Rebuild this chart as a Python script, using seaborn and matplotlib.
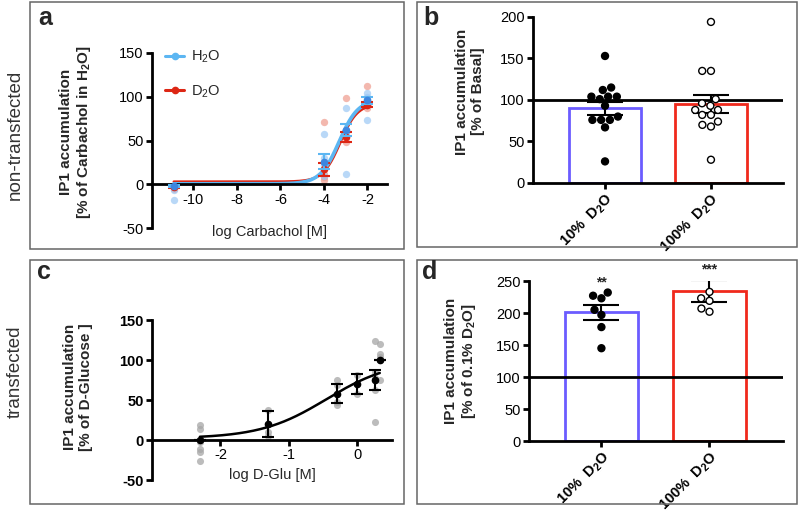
import numpy as np
import pandas as pd
import matplotlib
matplotlib.use('Agg')
import matplotlib.pyplot as plt
from matplotlib.lines import Line2D
from matplotlib.patches import Rectangle
import seaborn as sns

# ---- panel a: carbachol dose response (non-transfected) ----
carb_h2o_x = [-10.9, -10.9, -10.9, -4, -4, -4, -4, -3, -3, -3, -2, -2, -2, -2, -2]
carb_h2o_y = [-3, -6, -18, 58, 30, 22, 10, 87, 60, 12, 104, 100, 97, 92, 73]
carb_d2o_x = [-10.9, -10.9, -4, -4, -4, -4, -3, -3, -3, -2, -2, -2, -2]
carb_d2o_y = [-2, -5, 71, 12, 8, 5, 99, 60, 48, 112, 91, 87, 90]
carb_levels = [-10.9, -4, -3, -2]
h2o_mean = [-2, 26, 62, 96]
h2o_sem = [1, 9, 7, 4]
d2o_mean = [-3, 17, 54, 91]
d2o_sem = [1, 7, 6, 3]
# fitted curve params: bottom, top, logEC50, hill
h2o_fit = [0.5, 97, -3.3, 1.0]
d2o_fit = [3, 92, -3.25, 1.1]

# ---- panel b: basal ----
groups = ['10%  D$_2$O', '100%  D$_2$O']
basal_10 = [153, 115, 112, 104, 104, 104, 101, 93, 80, 76, 76, 76, 67, 26]
basal_100 = [194, 135, 135, 101, 96, 93, 88, 88, 82, 82, 74, 70, 68, 28]
basal_mean = [90, 95]
basal_sem = [8, 10.5]

# ---- panel c: D-glucose dose response (transfected) ----
glu_levels = [-2.3, -1.3, -0.3, 0.0, 0.26, 0.33]
glu_mean = [0, 20, 58, 70, 75, 100]
glu_sem = [0, 16, 12, 13, 12, 0]
glu_x = [-2.3] * 6 + [-1.3] * 3 + [-0.3] * 4 + [0.0] * 3 + [0.26] * 5 + [0.33] * 5
glu_y = [19, 14, -3, -11, -15, -26, 38, 10, 5, 75, 69, 48, 44, 81, 70, 58,
         124, 85, 77, 62, 22, 120, 107, 104, 100, 75]
glu_fit = [2, 100, -0.45, 0.9]

# ---- panel d: % of 0.1% D2O ----
fold_10 = [232, 227, 223, 205, 197, 178, 145]
fold_100 = [233, 223, 219, 207, 202]
fold_mean = [201, 234]
fold_sem = [12, 17.5]
stars = ['**', '***']

blue_line = '#5cb6f2'
blue_mean = '#3d86e0'
blue_pts = '#9cc8f5'
red_line = '#dd2614'
red_pts = '#ee9a8c'
bar_blue = '#6b5cff'
bar_red = '#f0291c'

sns.set_style('ticks')
plt.rcParams['font.family'] = ['Liberation Sans', 'DejaVu Sans']
plt.rcParams['mathtext.default'] = 'regular'
plt.rcParams['axes.unicode_minus'] = False


def logistic(x, p):
    bottom, top, ec50, hill = p
    return bottom + (top - bottom) / (1 + 10 ** ((ec50 - x) * hill))


def style_ax(ax, bold_ticks=False):
    sns.despine(ax=ax)
    for s in ['left', 'bottom']:
        ax.spines[s].set_linewidth(2)
        ax.spines[s].set_color('black')
    ax.tick_params(width=2, length=4, labelsize=10.5, colors='black', pad=2)
    if bold_ticks:
        for t in ax.get_xticklabels() + ax.get_yticklabels():
            t.set_fontweight('bold')


fig = plt.figure(figsize=(7.98, 5.14), dpi=100)

# panel frames
for (x0, y0, w, h) in [(0.0376, 0.5156, 0.4687, 0.4805), (0.5226, 0.5195, 0.476, 0.4767),
                       (0.0376, 0.0195, 0.4687, 0.4747), (0.5226, 0.0195, 0.476, 0.4747)]:
    fig.add_artist(Rectangle((x0, y0), w, h, transform=fig.transFigure, fill=False,
                             edgecolor='#666666', linewidth=1.1))

# ===== panel a =====
ax = fig.add_axes([0.1905, 0.5564, 0.2945, 0.3405])
sns.scatterplot(x=carb_d2o_x, y=carb_d2o_y, color=red_pts, alpha=0.7, s=28, linewidth=0, ax=ax)
sns.scatterplot(x=carb_h2o_x, y=carb_h2o_y, color=blue_pts, alpha=0.7, s=28, linewidth=0, ax=ax)
xs_a = np.linspace(carb_levels[0], -1.9, 300)
curve_a = pd.DataFrame({'x': np.concatenate([xs_a, xs_a]),
                        'y': np.concatenate([logistic(xs_a, d2o_fit), logistic(xs_a, h2o_fit)]),
                        'grp': ['D2O'] * len(xs_a) + ['H2O'] * len(xs_a)})
sns.lineplot(data=curve_a[curve_a.grp == 'D2O'], x='x', y='y', color=red_line, lw=1.8, ax=ax)
sns.lineplot(data=curve_a[curve_a.grp == 'H2O'], x='x', y='y', color=blue_line, lw=2.6, ax=ax)
ax.errorbar(carb_levels, d2o_mean, yerr=d2o_sem, fmt='o', color=red_line, ms=4.5,
            capsize=4, elinewidth=1.5, capthick=1.5, zorder=5)
ax.errorbar(carb_levels, h2o_mean, yerr=h2o_sem, fmt='o', color=blue_mean, ecolor=blue_line, ms=4.5,
            capsize=4, elinewidth=1.5, capthick=1.5, zorder=6)
ax.set_xlim(-11.9, -1.1)
ax.set_ylim(-50, 150)
ax.set_xticks([-10, -8, -6, -4, -2])
ax.set_yticks([-50, 0, 50, 100, 150])
style_ax(ax)
ax.spines['bottom'].set_position(('data', 0))
ax.set_xlabel('')
ax.text(0.5, -0.02, 'log Carbachol [M]', transform=ax.transAxes, ha='center', va='center', fontsize=10.5)
ax.set_ylabel('IP1 accumulation\n[% of Carbachol in H$_2$O]', fontsize=11, fontweight='bold')
ax.yaxis.set_label_coords(-0.25, 0.55)
handles = [Line2D([], [], color=blue_line, marker='o', lw=2.2, ms=4.5),
           Line2D([], [], color=red_line, marker='o', lw=2.2, ms=4.5)]
ax.legend(handles, ['H$_2$O', 'D$_2$O'], loc='upper left', bbox_to_anchor=(0.0, 1.1),
          frameon=False, fontsize=10.5, labelspacing=1.25, handlelength=1.3, handletextpad=0.5)

# ===== panel b =====
ax = fig.add_axes([0.6679, 0.644, 0.3133, 0.323])
df_b = pd.DataFrame({'group': groups, 'mean': basal_mean})
sns.barplot(data=df_b, x='group', y='mean', hue='group', palette=[bar_blue, bar_red], fill=False,
            linewidth=2, width=0.68, errorbar=None, legend=False, ax=ax)
ax.axhline(100, color='black', lw=2, zorder=3)
ax.errorbar([0, 1], basal_mean, yerr=basal_sem, fmt='none', ecolor='black', elinewidth=1.5,
            capsize=13, capthick=1.5, zorder=4)
pts_b = pd.DataFrame({'group': [groups[0]] * len(basal_10) + [groups[1]] * len(basal_100),
                      'val': basal_10 + basal_100})
sns.swarmplot(data=pts_b, x='group', y='val', hue='group', palette=['black', 'white'], size=5,
              edgecolor='black', linewidth=1, legend=False, ax=ax, zorder=5)
ax.set_xlim(-0.68, 1.68)
ax.set_ylim(0, 200)
ax.set_yticks([0, 50, 100, 150, 200])
style_ax(ax)
ax.set_xlabel('')
ax.set_ylabel('IP1 accumulation\n[% of Basal]', fontsize=11, fontweight='bold')
ax.yaxis.set_label_coords(-0.19, 0.55)
for t in ax.get_xticklabels():
    t.set_rotation(45)
    t.set_ha('right')
    t.set_rotation_mode('anchor')
    t.set_fontweight('bold')

# ===== panel c =====
ax = fig.add_axes([0.1905, 0.0661, 0.3008, 0.3113])
sns.scatterplot(x=glu_x, y=glu_y, color='#a6a6a6', alpha=0.75, s=26, linewidth=0, ax=ax)
xs_c = np.linspace(glu_levels[0], glu_levels[-1], 300)
sns.lineplot(x=xs_c, y=logistic(xs_c, glu_fit), color='black', lw=1.8, ax=ax)
ax.errorbar(glu_levels, glu_mean, yerr=glu_sem, fmt='o', color='black', ms=4.5,
            capsize=4, elinewidth=1.5, capthick=1.5, zorder=5)
ax.set_xlim(-3.0, 0.51)
ax.set_ylim(-50, 150)
ax.set_xticks([-2, -1, 0])
ax.set_yticks([-50, 0, 50, 100, 150])
style_ax(ax, bold_ticks=True)
ax.spines['bottom'].set_position(('data', 0))
ax.set_xlabel('')
ax.text(0.5, 0.03, 'log D-Glu [M]', transform=ax.transAxes, ha='center', va='center', fontsize=10.5)
ax.set_ylabel('IP1 accumulation\n[% of D-Glucose ]', fontsize=11, fontweight='bold')
ax.yaxis.set_label_coords(-0.245, 0.58)

# ===== panel d =====
ax = fig.add_axes([0.6629, 0.142, 0.3183, 0.3113])
df_d = pd.DataFrame({'group': groups, 'mean': fold_mean})
sns.barplot(data=df_d, x='group', y='mean', hue='group', palette=[bar_blue, bar_red], fill=False,
            linewidth=2, width=0.68, errorbar=None, legend=False, ax=ax)
ax.axhline(100, color='black', lw=2, zorder=3)
ax.errorbar([0, 1], fold_mean, yerr=fold_sem, fmt='none', ecolor='black', elinewidth=1.5,
            capsize=13, capthick=1.5, zorder=4)
pts_d = pd.DataFrame({'group': [groups[0]] * len(fold_10) + [groups[1]] * len(fold_100),
                      'val': fold_10 + fold_100})
sns.swarmplot(data=pts_d, x='group', y='val', hue='group', palette=['black', 'white'], size=5,
              edgecolor='black', linewidth=1, legend=False, ax=ax, zorder=5)
for i, s in enumerate(stars):
    top = max(fold_10) if i == 0 else fold_mean[1] + fold_sem[1]
    ax.text(i, top + 5, s, ha='center', va='bottom', fontsize=10, fontweight='bold')
ax.set_xlim(-0.67, 1.68)
ax.set_ylim(0, 250)
ax.set_yticks([0, 50, 100, 150, 200, 250])
style_ax(ax)
ax.set_xlabel('')
ax.set_ylabel('IP1 accumulation\n[% of 0.1% D$_2$O]', fontsize=11, fontweight='bold')
ax.yaxis.set_label_coords(-0.2, 0.5)
for t in ax.get_xticklabels():
    t.set_rotation(45)
    t.set_ha('right')
    t.set_rotation_mode('anchor')
    t.set_fontweight('bold')

# panel letters + row labels
for lbl, x, y in [('a', 38, 18), ('b', 423, 18), ('c', 37, 272), ('d', 422, 272)]:
    fig.text(x / 798, 1 - y / 514, lbl, fontsize=18, fontweight='bold', va='center', ha='left')
fig.text(15 / 798, 1 - 135 / 514, 'non-transfected', rotation=90, fontsize=13.5,
         color='#333333', ha='center', va='center')
fig.text(15 / 798, 1 - 372 / 514, 'transfected', rotation=90, fontsize=13.5,
         color='#333333', ha='center', va='center')

fig.savefig('out.png', dpi=100)
